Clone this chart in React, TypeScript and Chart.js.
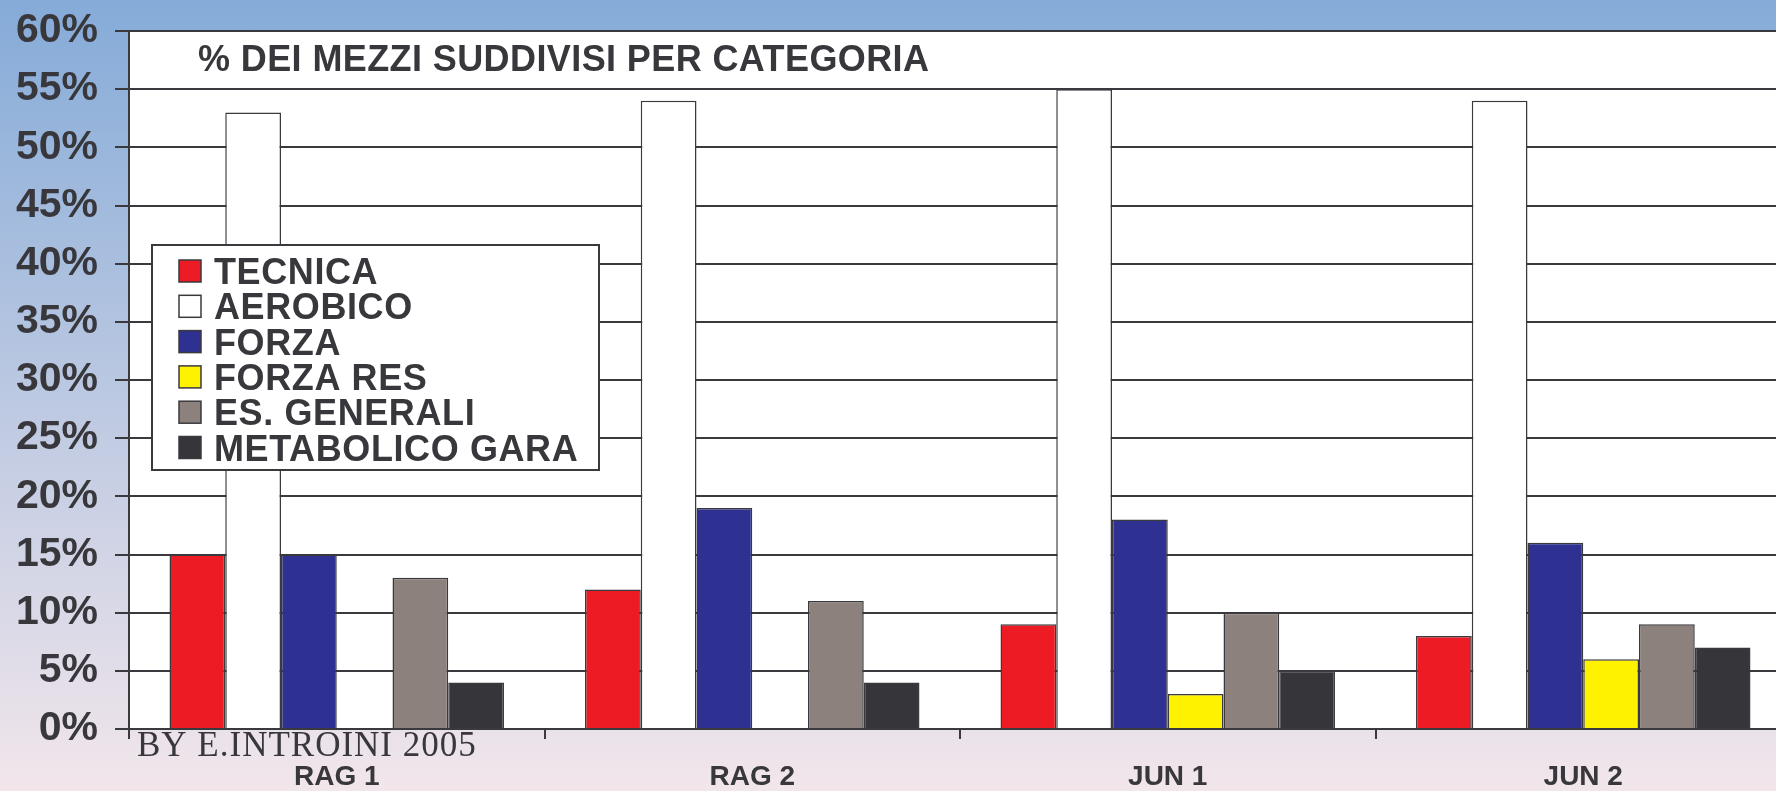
import React, { useEffect, useRef } from 'react';
import { Chart, registerables } from 'chart.js';

Chart.register(...registerables);

const categories = ['RAG 1', 'RAG 2', 'JUN 1', 'JUN 2'];
const seriesNames = ['TECNICA', 'AEROBICO', 'FORZA', 'FORZA RES', 'ES. GENERALI', 'METABOLICO GARA'];
const tecnica = [15, 12, 9, 8];
const aerobico = [53, 54, 55, 54];
const forza = [15, 19, 18, 16];
const forzaRes = [0, 0, 3, 6];
const esGenerali = [13, 11, 10, 9];
const metabolicoGara = [4, 4, 5, 7];
const seriesValues = [tecnica, aerobico, forza, forzaRes, esGenerali, metabolicoGara];
const seriesColors = ['#ED1C24', '#FFFFFF', '#2E3192', '#FFF200', '#8C817C', '#363539'];
const yMin = 0;
const yMax = 60;
const yStep = 5;
const titleText = '% DEI MEZZI SUDDIVISI PER CATEGORIA';
const creditText = 'BY E.INTROINI 2005';

const INK = '#38373b';
const LINE = '#3a393e';
const SANS = '"Liberation Sans", Arial, Helvetica, sans-serif';
const SERIF = '"Liberation Serif", "Times New Roman", serif';

const decorPlugin = {
  id: 'decor',
  beforeDraw(chart: any) {
    const { ctx, chartArea: a } = chart;
    ctx.save();
    ctx.fillStyle = '#FFFFFF';
    ctx.fillRect(a.left, a.top, a.right - a.left, a.bottom - a.top);
    ctx.restore();
  },
  afterDatasetsDraw(chart: any) {
    const { ctx, chartArea: a } = chart;
    ctx.save();
    ctx.fillStyle = INK;
    ctx.font = `bold 36px ${SANS}`;
    try { (ctx as any).letterSpacing = '0.4px'; } catch (e) {}
    ctx.textAlign = 'left';
    ctx.textBaseline = 'alphabetic';
    ctx.fillText(titleText, a.left + 69, a.top + 40);

    const bx = a.left + 23;
    const by = a.top + 214;
    const bw = 447;
    const bh = 225;
    ctx.fillStyle = '#FFFFFF';
    ctx.fillRect(bx, by, bw, bh);
    ctx.strokeStyle = LINE;
    ctx.lineWidth = 2;
    ctx.strokeRect(bx, by, bw, bh);
    try { (ctx as any).letterSpacing = '0.6px'; } catch (e) {}
    chart.data.datasets.forEach((ds: any, i: number) => {
      const cy = by + 26 + i * 35.3;
      ctx.fillStyle = ds.backgroundColor;
      ctx.fillRect(bx + 27, cy - 11, 22, 22);
      ctx.strokeStyle = LINE;
      ctx.lineWidth = 1.5;
      ctx.strokeRect(bx + 27, cy - 11, 22, 22);
      ctx.fillStyle = INK;
      ctx.font = `bold 36px ${SANS}`;
      ctx.fillText(ds.label, bx + 62, cy + 13);
    });
    ctx.restore();
  },
  afterDraw(chart: any) {
    const { ctx, chartArea: a } = chart;
    ctx.save();
    ctx.fillStyle = INK;
    ctx.font = `35px ${SERIF}`;
    try { (ctx as any).letterSpacing = '1px'; } catch (e) {}
    ctx.textAlign = 'left';
    ctx.textBaseline = 'alphabetic';
    ctx.fillText(creditText, a.left + 8, a.bottom + 27);
    ctx.restore();
  },
};

export default function App() {
  const ref = useRef<HTMLCanvasElement | null>(null);
  useEffect(() => {
    if (!ref.current) return;
    const chart = new Chart(ref.current, {
      type: 'bar',
      data: {
        labels: categories,
        datasets: seriesNames.map((name, i) => ({
          label: name,
          data: seriesValues[i],
          backgroundColor: seriesColors[i],
          borderColor: LINE,
          borderWidth: 1.5,
          borderSkipped: 'bottom',
          barPercentage: 1,
          categoryPercentage: 0.805,
        })),
      },
      options: {
        responsive: false,
        animation: false,
        devicePixelRatio: 1,
        layout: { padding: { top: 31, left: 0, right: 0, bottom: 0 } },
        plugins: {
          legend: { display: false },
          tooltip: { enabled: false },
          title: { display: false },
        },
        scales: {
          x: {
            offset: true,
            grid: {
              display: true,
              offset: true,
              drawOnChartArea: false,
              drawTicks: true,
              tickLength: 10,
              lineWidth: 2,
              color: LINE,
            },
            border: { display: true, color: LINE, width: 2 },
            ticks: {
              color: INK,
              font: { family: SANS, size: 28, weight: 'bold' },
              padding: 21,
              maxRotation: 0,
            },
            afterFit(scale: any) {
              scale.height = 62;
              scale.paddingLeft = 0;
              scale.paddingRight = 0;
            },
          },
          y: {
            min: yMin,
            max: yMax,
            grid: {
              display: true,
              drawOnChartArea: true,
              drawTicks: true,
              tickLength: 14,
              lineWidth: 2,
              color: LINE,
            },
            border: { display: true, color: LINE, width: 2 },
            ticks: {
              stepSize: yStep,
              color: INK,
              font: { family: SANS, size: 41, weight: 'bold' },
              padding: 17,
              callback: (v: any) => `${v}%`,
            },
            afterFit(scale: any) {
              scale.width = 129;
              scale.paddingTop = 0;
              scale.paddingBottom = 0;
            },
          },
        },
      },
      plugins: [decorPlugin],
    } as any);
    return () => chart.destroy();
  }, []);

  return (
    <div
      style={{
        position: 'fixed',
        left: 0,
        top: 0,
        width: 1791,
        height: 791,
        background: 'linear-gradient(to bottom, #85ABD8 0%, #F2E6EB 100%)',
      }}
    >
      <canvas ref={ref} width={1791} height={791} style={{ display: 'block' }} />
    </div>
  );
}
